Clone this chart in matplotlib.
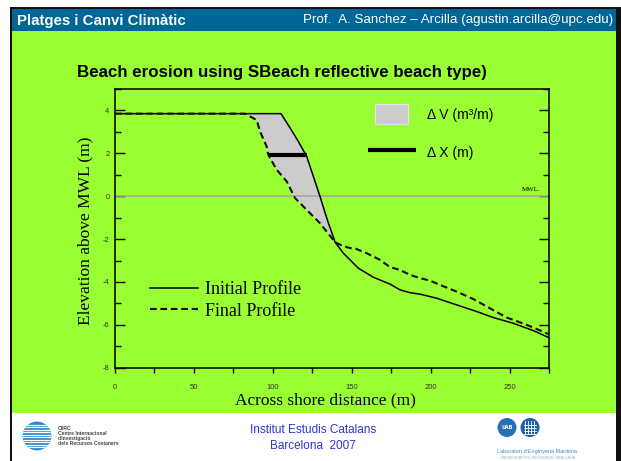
import numpy as np
import matplotlib
matplotlib.use('Agg')
import matplotlib.pyplot as plt
from matplotlib.patches import Rectangle, Circle, Patch
from matplotlib.lines import Line2D
from matplotlib.legend_handler import HandlerPatch
from matplotlib.ticker import MultipleLocator

plt.rcParams['axes.unicode_minus'] = False

# beach profiles: across-shore distance (m), elevation (m)
initial_x = [0, 105.2, 110.8, 116.2, 121.5, 125.7, 129.9, 134.5, 139.5, 144.7,
             154.2, 163.7, 174.3, 180.6, 186.9, 193.3, 203.9, 216.5, 229.2,
             239.7, 252.4, 265.1, 275]
initial_y = [3.85, 3.85, 3.2, 2.55, 1.85, 0.92, -0.01, -1.10, -2.15, -2.66,
             -3.36, -3.78, -4.10, -4.37, -4.50, -4.57, -4.76, -5.07, -5.38,
             -5.66, -5.93, -6.27, -6.60]
final_x = [0, 82.4, 85.6, 89.8, 91.9, 96.1, 97.1, 102.5, 108.8, 114.1, 121.5,
           129.9, 139.5, 144.7, 149.0, 152.5, 159.5, 167.9, 174.3, 180.6, 186.9,
           193.3, 199.6, 206.0, 216.5, 227.1, 237.6, 248.2, 260.9, 275]
final_y = [3.85, 3.85, 3.72, 3.55, 3.02, 2.32, 1.93, 1.23, 0.69, -0.09, -0.64,
           -1.26, -2.15, -2.33, -2.42, -2.45, -2.66, -2.97, -3.31, -3.44, -3.67,
           -3.82, -3.94, -4.14, -4.45, -4.80, -5.23, -5.66, -6.00, -6.44]
dx_x = [97.8, 121.5]   # shoreline retreat marker
dx_y = [1.92, 1.92]
x_ticks = [0, 50, 100, 150, 200, 250]
y_ticks = [-8, -6, -4, -2, 0, 2, 4]

W, H = 621, 461
GREEN = '#99ff33'
BLUE = '#006699'

fig = plt.figure(figsize=(W / 100, H / 100), dpi=100, facecolor='white')


def box(x0, y0, x1, y1):
    return [x0 / W, 1 - y1 / H, (x1 - x0) / W, (y1 - y0) / H]


def rect(x0, y0, x1, y1, color):
    b = box(x0, y0, x1, y1)
    fig.add_artist(Rectangle((b[0], b[1]), b[2], b[3], transform=fig.transFigure,
                             facecolor=color, edgecolor='none', zorder=-5))


def fit_width(t, width):
    r = fig.canvas.get_renderer()
    w = t.get_window_extent(r).width
    t.set_fontsize(t.get_fontsize() * width / w)


# slide frame
rect(12, 31, 616, 413, GREEN)
rect(12, 9, 616, 31, BLUE)
rect(10, 7, 621, 9, '#111111')
rect(10, 7, 12, 461, '#111111')
rect(616, 7, 621, 461, '#111111')

t = fig.text(17 / W, 1 - 20.5 / H, 'Platges i Canvi Climàtic', color='white',
             fontsize=9.5, fontweight='bold', family='Liberation Sans', va='center')
fit_width(t, 170)
t = fig.text(613 / W, 1 - 20.5 / H, 'Prof.  A. Sanchez \u2013 Arcilla (agustin.arcilla@upc.edu)',
             color='white', fontsize=10, family='Liberation Sans',
             ha='right', va='center')
fit_width(t, 311)

t = fig.text(77 / W, 1 - 72 / H, 'Beach erosion using SBeach reflective beach type)',
             fontsize=11, fontweight='bold', family='Liberation Sans', va='center')
fit_width(t, 411)

# main chart
ax = fig.add_axes(box(115, 89, 549, 367.7))
ax.set_facecolor('none')
ax.set_xlim(0, 275)
ax.set_ylim(-8, 5)

# eroded area between the two profiles
xi = np.array(initial_x)
yi = np.array(initial_y)
xf = np.array(final_x)
yf = np.array(final_y)
mi = (xi >= 82.4) & (xi <= 139.5)
mf = (xf >= 82.4) & (xf <= 139.5)
ax.fill(np.concatenate([xi[mi], xf[mf][::-1]]), np.concatenate([yi[mi], yf[mf][::-1]]),
        facecolor='#cccccc', edgecolor='none', zorder=1)

ax.axhline(0, color='#a8a8a8', lw=1.2, zorder=2)
ax.text(258, 0.32, 'MWL.', fontsize=5, family='Liberation Serif', va='center')

l_init, = ax.plot(initial_x, initial_y, color='black', lw=1.1, zorder=3)
l_final, = ax.plot(final_x, final_y, color='#111111', lw=1.5, ls=(0, (3.2, 1.8)), zorder=4)
l_dx, = ax.plot(dx_x, dx_y, color='black', lw=3, solid_capstyle='butt', zorder=5)

ax.set_xticks(x_ticks)
ax.xaxis.set_minor_locator(MultipleLocator(25))
ax.set_yticks(y_ticks)
ax.yaxis.set_minor_locator(MultipleLocator(1))
ax.tick_params(axis='y', which='both', direction='in', left=True, right=True, pad=4,
               labelsize=5.5, labelcolor='#333333')
ax.tick_params(axis='y', which='major', length=7.5, width=1)
ax.tick_params(axis='y', which='minor', length=4, width=1)
ax.tick_params(axis='x', which='both', direction='out', length=3.6, width=1, top=False,
               pad=8, labelsize=5.5, labelcolor='#333333')
for lab in ax.get_xticklabels() + ax.get_yticklabels():
    lab.set_family('Liberation Sans')
for s in ax.spines.values():
    s.set_linewidth(1.1)

ax.set_xlabel('Across shore distance (m)', family='Liberation Serif', fontsize=12.5)
ax.xaxis.set_label_coords(0.485, -0.09)
ax.set_ylabel('Elevation above MWL (m)', family='Liberation Serif', fontsize=12.5)
ax.yaxis.set_label_coords(-0.05, 0.49)

leg1 = ax.legend([l_init, Line2D([], [], color='black', lw=1.5, ls=(0, (3.2, 1.8)))],
                 ['Initial Profile', 'Final Profile'],
                 loc='upper left', bbox_to_anchor=(0.08, 0.31), frameon=False,
                 prop={'family': 'Liberation Serif', 'size': 13},
                 handlelength=2.7, handletextpad=0.35, labelspacing=0.25,
                 borderpad=0, borderaxespad=0)
ax.add_artist(leg1)


def narrow_patch(legend, orig_handle, xdescent, ydescent, width, height, fontsize):
    w = width * 0.7
    return Rectangle((-xdescent + (width - w) / 2, -ydescent), w, height)


leg2 = ax.legend([Patch(facecolor='#cccccc', edgecolor='#e4e4e4', lw=0.8), l_dx],
                 ['\u0394 V (m\u00b3/m)', '\u0394 X (m)'],
                 handler_map={Patch: HandlerPatch(patch_func=narrow_patch)},
                 loc='upper left', bbox_to_anchor=(0.582, 0.945), frameon=False,
                 prop={'family': 'Liberation Sans', 'size': 10},
                 handlelength=3.45, handleheight=1.85, handletextpad=0.8,
                 labelspacing=1.3, borderpad=0, borderaxespad=0)

# footer
fig.text(313 / W, 1 - 430 / H, 'Institut Estudis Catalans', color='#3333cc', fontsize=8.5,
         family='Liberation Sans', ha='center', va='center')
fig.text(313 / W, 1 - 446 / H, 'Barcelona  2007', color='#3333cc', fontsize=8.5,
         family='Liberation Sans', ha='center', va='center')

lg = fig.add_axes(box(22, 421, 52, 451))
lg.set_xlim(0, 1)
lg.set_ylim(0, 1)
lg.axis('off')
disc = Circle((0.5, 0.5), 0.48, facecolor='#2f86c8', edgecolor='none')
lg.add_patch(disc)
for yy in np.linspace(0.12, 0.88, 10):
    ln, = lg.plot([0, 1], [yy, yy], color='white', lw=0.9)
    ln.set_clip_path(disc)
for i, s in enumerate(['CIIRC', 'Centre Internacional', "d'Investigació", 'dels Recursos Costaners']):
    fig.text(58 / W, 1 - (428 + i * 5) / H, s, fontsize=3.6, fontweight='bold',
             color='#444444', family='Liberation Sans', va='center')

rl = fig.add_axes(box(496, 417, 544, 438))
rl.set_xlim(0, 48)
rl.set_ylim(0, 21)
rl.set_aspect('equal')
rl.axis('off')
rl.add_patch(Circle((11, 10.5), 9.5, facecolor='#2a6fb3', edgecolor='none'))
rl.text(11, 10.5, 'UAB', color='white', fontsize=3.5, fontweight='bold', ha='center', va='center')
upc = Circle((34, 10.5), 9.5, facecolor='#1b5fa6', edgecolor='none')
rl.add_patch(upc)
for v in [29, 32, 35, 38]:
    ln, = rl.plot([v, v], [4, 17], color='white', lw=0.6)
    ln.set_clip_path(upc)
    ln, = rl.plot([28, 40], [v - 24.5, v - 24.5], color='white', lw=0.6)
    ln.set_clip_path(upc)
fig.text(537 / W, 1 - 451 / H, "Laboratori d'Enginyeria Marítima", fontsize=4,
         color='#4a86c0', family='Liberation Sans', ha='center', va='center')
fig.text(537 / W, 1 - 458 / H, 'UNIVERSITAT POLITÈCNICA DE CATALUNYA', fontsize=2.6,
         color='#8ab0d8', family='Liberation Sans', ha='center', va='center')

fig.savefig('out.png', dpi=100, facecolor='white')
